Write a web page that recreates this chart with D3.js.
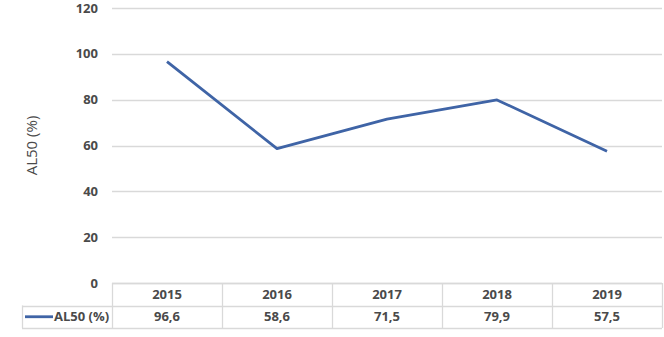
<!DOCTYPE html>
<html>
<head>
<meta charset="utf-8">
<script src="https://cdn.jsdelivr.net/npm/d3@7"></script>
<style>
  body { margin: 0; background: #fff; }
  text { font-family: "Open Sans", "Noto Sans", sans-serif; }
</style>
</head>
<body>
<div id="chart"></div>
<script>
// Data
const years = ["2015", "2016", "2017", "2018", "2019"];
const values = [96.6, 58.6, 71.5, 79.9, 57.5];
const valueLabels = ["96,6", "58,6", "71,5", "79,9", "57,5"];
const yTicks = [0, 20, 40, 60, 80, 100, 120];
const seriesName = "AL50 (%)";

const width = 664;
const height = 337;
const margin = { top: 8, right: 2, bottom: 54, left: 112 };
const tableLeft = 22;
const rowHeight = 22.5;
const lineColor = "#3f64a6";
const gridColor = "#d9d9d9";
const textColor = "#4a4a4a";

const svg = d3.select("#chart")
  .append("svg")
  .attr("width", width)
  .attr("height", height);

const x = d3.scaleBand()
  .domain(years)
  .range([margin.left, width - margin.right]);

const y = d3.scaleLinear()
  .domain([0, 120])
  .range([height - margin.bottom, margin.top]);

// Gridlines
svg.append("g")
  .selectAll("line")
  .data(yTicks)
  .join("line")
  .attr("x1", margin.left)
  .attr("x2", width - margin.right)
  .attr("y1", (d) => Math.round(y(d)) + 0.5)
  .attr("y2", (d) => Math.round(y(d)) + 0.5)
  .style("stroke", gridColor)
  .style("stroke-width", 1.3);

// Y tick labels
svg.append("g")
  .selectAll("text")
  .data(yTicks)
  .join("text")
  .attr("x", 98)
  .attr("y", (d) => y(d))
  .attr("dy", "0.35em")
  .attr("text-anchor", "end")
  .style("font-size", "13px")
  .style("font-weight", "bold")
  .style("fill", textColor)
  .text((d) => d);

// Y axis title
svg.append("text")
  .attr("transform", `translate(37, ${(y(0) + y(120)) / 2}) rotate(-90)`)
  .attr("text-anchor", "middle")
  .style("font-size", "15px")
  .style("fill", textColor)
  .text(seriesName);

// Line
const line = d3.line()
  .x((d, i) => x(years[i]) + x.bandwidth() / 2)
  .y((d) => y(d));

svg.append("path")
  .datum(values)
  .attr("d", line)
  .style("fill", "none")
  .style("stroke", lineColor)
  .style("stroke-width", 2.8)
  .style("stroke-linejoin", "round");

// Data table
const tableTop = y(0);
const table = svg.append("g");

// Horizontal borders
const xRight = width - margin.right;
[
  [margin.left, tableTop],
  [tableLeft, tableTop + rowHeight],
  [tableLeft, tableTop + 2 * rowHeight],
].forEach(([x0, yy]) => {
  table.append("line")
    .attr("x1", x0)
    .attr("x2", xRight)
    .attr("y1", Math.round(yy) + 0.5)
    .attr("y2", Math.round(yy) + 0.5)
    .style("stroke", gridColor)
    .style("stroke-width", 1.3);
});

// Vertical borders
const colEdges = years.map((yr) => x(yr)).concat([xRight]);
table.selectAll(".vline")
  .data(colEdges)
  .join("line")
  .attr("class", "vline")
  .attr("x1", (d) => Math.round(d) + 0.5)
  .attr("x2", (d) => Math.round(d) + 0.5)
  .attr("y1", tableTop)
  .attr("y2", tableTop + 2 * rowHeight)
  .style("stroke", gridColor)
  .style("stroke-width", 1.3);

table.append("line")
  .attr("x1", tableLeft + 0.5)
  .attr("x2", tableLeft + 0.5)
  .attr("y1", tableTop + rowHeight)
  .attr("y2", tableTop + 2 * rowHeight)
  .style("stroke", gridColor)
  .style("stroke-width", 1.3);

// Header row
table.selectAll(".year")
  .data(years)
  .join("text")
  .attr("class", "year")
  .attr("x", (d) => x(d) + x.bandwidth() / 2)
  .attr("y", tableTop + rowHeight / 2)
  .attr("dy", "0.35em")
  .attr("text-anchor", "middle")
  .style("font-size", "13px")
  .style("font-weight", "bold")
  .style("fill", textColor)
  .text((d) => d);

// Value row
table.selectAll(".val")
  .data(valueLabels)
  .join("text")
  .attr("class", "val")
  .attr("x", (d, i) => x(years[i]) + x.bandwidth() / 2)
  .attr("y", tableTop + rowHeight * 1.5)
  .attr("dy", "0.35em")
  .attr("text-anchor", "middle")
  .style("font-size", "13px")
  .style("font-weight", "bold")
  .style("fill", textColor)
  .text((d) => d);

// Legend key
table.append("line")
  .attr("x1", 25)
  .attr("x2", 53)
  .attr("y1", tableTop + rowHeight * 1.5)
  .attr("y2", tableTop + rowHeight * 1.5)
  .style("stroke", lineColor)
  .style("stroke-width", 2.8);

table.append("text")
  .attr("x", 54)
  .attr("y", tableTop + rowHeight * 1.5)
  .attr("dy", "0.35em")
  .style("font-size", "13px")
  .style("font-weight", "bold")
  .style("fill", textColor)
  .text(seriesName);
</script>
</body>
</html>
